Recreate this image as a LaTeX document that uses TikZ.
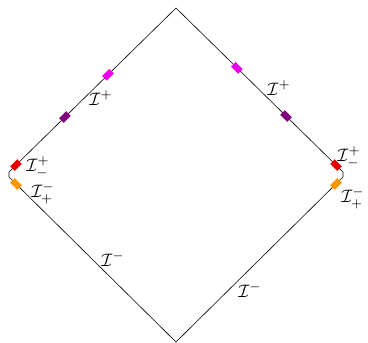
\documentclass[tikz,border=0pt]{standalone}
\definecolor{mkmag}{RGB}{235,0,235}
\definecolor{mkpur}{RGB}{128,0,128}
\definecolor{mkred}{RGB}{235,0,0}
\definecolor{mkora}{RGB}{255,150,0}
\begin{document}
\begin{tikzpicture}[x=1pt,y=-1pt,
  mk/.style={rectangle,inner sep=0pt,minimum width=10pt,minimum height=6.5pt,draw=none,fill=#1},
  lab/.style={inner sep=0pt,scale=1.8,transform shape},
  edge/.style={draw=black,line width=0.6pt}]
\useasboundingbox (0,0) rectangle (368,343);
\coordinate (T) at (176,8);
\coordinate (L1) at (9,172);
\coordinate (R1) at (343,172);
\coordinate (L2) at (9,177);
\coordinate (R2) at (343,177);
\coordinate (B) at (176,342);
\draw[edge] (L2) -- (L1) -- (T) -- (R1) -- (R2) -- (B) -- cycle;
% markers
\path (L1) -- (T)
  node[mk=mkred,pos=0.042,rotate=45] (mrl) {}
  node[mk=mkpur,pos=0.335,rotate=45] (mpl) {}
  node[mk=mkmag,pos=0.593,rotate=45] (mml) {};
\path (R1) -- (T)
  node[mk=mkred,pos=0.042,rotate=-45] (mrr) {}
  node[mk=mkpur,pos=0.341,rotate=-45] (mpr) {}
  node[mk=mkmag,pos=0.635,rotate=-45] (mmr) {};
\path (L2) -- (B) node[mk=mkora,pos=0.042,rotate=-45] (mol) {};
\path (R2) -- (B) node[mk=mkora,pos=0.042,rotate=45] (mor) {};
% labels
\node[lab] (lp) at (101,98) {$\mathcal{I}^+$};
\node[lab] (rp) at (279,88) {$\mathcal{I}^+$};
\node[lab] (lpm) at (38,167) {$\mathcal{I}^+_-$};
\node[lab] (rpm) at (349,157) {$\mathcal{I}^+_-$};
\node[lab] (lmp) at (43,193) {$\mathcal{I}^-_+$};
\node[lab] (rmp) at (353,198) {$\mathcal{I}^-_+$};
\node[lab] (lm) at (113,259) {$\mathcal{I}^-$};
\node[lab] (rm) at (250,290) {$\mathcal{I}^-$};
\end{tikzpicture}
\end{document}
